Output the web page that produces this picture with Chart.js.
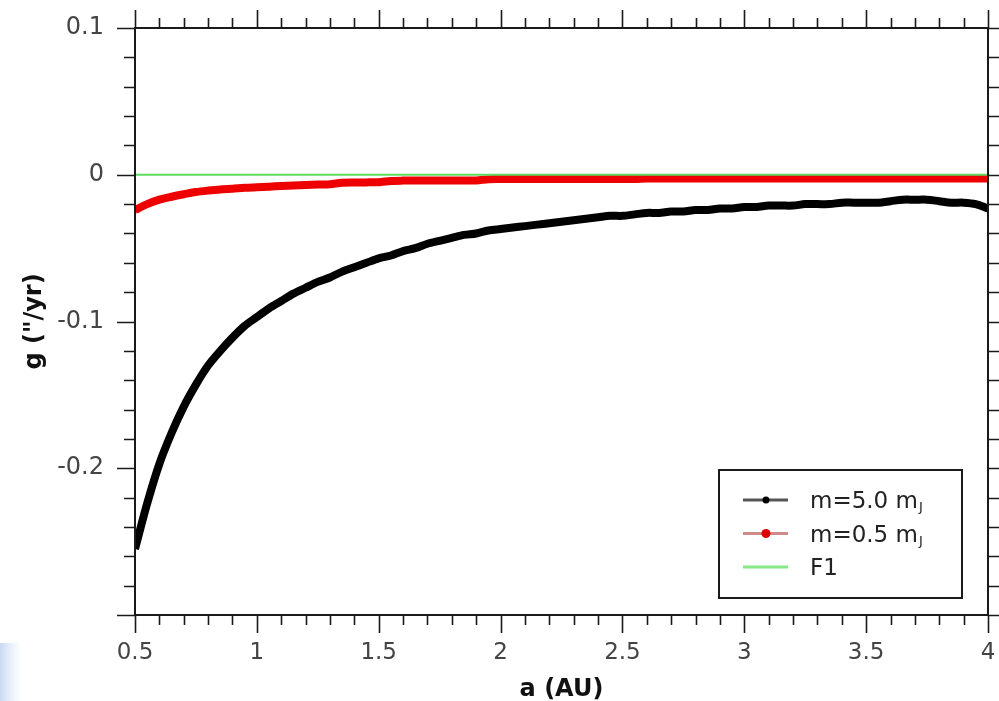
<!DOCTYPE html>
<html>
<head>
<meta charset="utf-8">
<title>g vs a</title>
<script src="https://cdn.jsdelivr.net/npm/chart.js@4/dist/chart.umd.min.js"></script>
<style>
  html, body { margin: 0; padding: 0; background: #fff; }
  #wrap { width: 999px; height: 701px; }
</style>
</head>
<body>
<div id="wrap"><canvas id="g-chart" width="999" height="701"></canvas></div>
<script>
// semi-major axis a (AU), sampled every 0.05
const semiMajorAxis = [
    0.50, 0.55, 0.60, 0.65, 0.70, 0.75, 0.80, 0.85, 0.90, 0.95,
    1.00, 1.05, 1.10, 1.15, 1.20, 1.25, 1.30, 1.35, 1.40, 1.45,
    1.50, 1.55, 1.60, 1.65, 1.70, 1.75, 1.80, 1.85, 1.90, 1.95,
    2.00, 2.05, 2.10, 2.15, 2.20, 2.25, 2.30, 2.35, 2.40, 2.45,
    2.50, 2.55, 2.60, 2.65, 2.70, 2.75, 2.80, 2.85, 2.90, 2.95,
    3.00, 3.05, 3.10, 3.15, 3.20, 3.25, 3.30, 3.35, 3.40, 3.45,
    3.50, 3.55, 3.60, 3.65, 3.70, 3.75, 3.80, 3.85, 3.90, 3.95,
    4.00
];

// g ("/yr) for m = 5.0 mJ
const gHeavy = [
    -0.255, -0.224, -0.197, -0.176, -0.158, -0.143, -0.130, -0.120, -0.111, -0.103,
    -0.097, -0.091, -0.086, -0.081, -0.077, -0.073, -0.070, -0.066, -0.063, -0.060,
    -0.057, -0.055, -0.052, -0.050, -0.047, -0.045, -0.043, -0.041, -0.040, -0.038,
    -0.037, -0.036, -0.035, -0.034, -0.033, -0.032, -0.031, -0.030, -0.029, -0.028,
    -0.028, -0.027, -0.026, -0.026, -0.025, -0.025, -0.024, -0.024, -0.023, -0.023,
    -0.022, -0.022, -0.021, -0.021, -0.021, -0.020, -0.020, -0.020, -0.019, -0.019,
    -0.019, -0.019, -0.018, -0.017, -0.017, -0.017, -0.018, -0.019, -0.019, -0.020,
    -0.023
];

// g ("/yr) for m = 0.5 mJ
const gLight = [
    -0.0240, -0.0200, -0.0170, -0.0150, -0.0133, -0.0118, -0.0108, -0.0100, -0.0095, -0.0089,
    -0.0085, -0.0081, -0.0077, -0.0073, -0.0070, -0.0067, -0.0064, -0.0055, -0.0053, -0.0052,
    -0.0051, -0.0042, -0.0040, -0.0040, -0.0039, -0.0039, -0.0039, -0.0039, -0.0039, -0.0030,
    -0.0029, -0.0029, -0.0029, -0.0029, -0.0029, -0.0029, -0.0029, -0.0029, -0.0029, -0.0029,
    -0.0029, -0.0029, -0.0026, -0.0026, -0.0026, -0.0026, -0.0025, -0.0025, -0.0025, -0.0025,
    -0.0025, -0.0025, -0.0025, -0.0025, -0.0025, -0.0025, -0.0025, -0.0025, -0.0025, -0.0025,
    -0.0025, -0.0025, -0.0025, -0.0025, -0.0025, -0.0025, -0.0025, -0.0025, -0.0025, -0.0025,
    -0.0025
];

// F1 reference line
const f1A = [0.5, 4.0];
const f1G = [0, 0];

// labelled ticks
const xTickValues = [0.5, 1, 1.5, 2, 2.5, 3, 3.5, 4];
const yTickValues = [0.1, 0, -0.1, -0.2];

const FONT = 'DejaVu Sans';
const INK = '#1a1a1a';

function toPoints(xs, ys) {
    return xs.map((x, i) => ({ x: x, y: ys[i] }));
}

// White page, frame round the plot, and ticks (major + minor) on all four sides.
const frameAndTicks = {
    id: 'frameAndTicks',
    beforeDraw(chart) {
        const ctx = chart.ctx;
        ctx.save();
        ctx.fillStyle = '#fff';
        ctx.fillRect(0, 0, chart.width, chart.height);
        // pale blue patch in the bottom-left corner
        const grd = ctx.createLinearGradient(0, 0, 22, 0);
        grd.addColorStop(0, '#c9d9f2');
        grd.addColorStop(1, 'rgba(220,232,248,0)');
        ctx.fillStyle = grd;
        ctx.fillRect(0, 643, 22, 58);
        ctx.restore();
    },
    afterDatasetsDraw(chart) {
        const { ctx, chartArea: a, scales: { x, y } } = chart;
        ctx.save();
        ctx.strokeStyle = INK;
        ctx.lineWidth = 2;
        ctx.strokeRect(a.left, a.top, a.right - a.left, a.bottom - a.top);

        ctx.lineWidth = 1.6;
        ctx.beginPath();
        // x: minor every 0.1, major every 0.5
        for (let i = 0; i <= 35; i++) {
            const px = Math.round(x.getPixelForValue(0.5 + i / 10)) + 0.5;
            const len = i % 5 === 0 ? 18 : 10;
            ctx.moveTo(px, a.bottom);
            ctx.lineTo(px, a.bottom + len);
            ctx.moveTo(px, a.top);
            ctx.lineTo(px, a.top - len);
        }
        // y: minor every 0.02, major every 0.1
        for (let i = 0; i <= 20; i++) {
            const py = Math.round(y.getPixelForValue(-0.3 + i * 0.02)) + 0.5;
            const len = i % 5 === 0 ? 18 : 11;
            ctx.moveTo(a.left, py);
            ctx.lineTo(a.left - len, py);
            ctx.moveTo(a.right, py);
            ctx.lineTo(a.right + len, py);
        }
        ctx.stroke();
        ctx.restore();
    }
};

// Boxed legend in the lower right of the plot.
const legendBox = {
    id: 'legendBox',
    afterDraw(chart) {
        const ctx = chart.ctx;
        const box = { x: 719, y: 470, w: 243, h: 128 };
        const rows = [
            { text: 'm=5.0 m', sub: 'J', line: '#555', dot: '#000', r: 3.5, w: 3 },
            { text: 'm=0.5 m', sub: 'J', line: '#cf8a8a', dot: '#e00000', r: 4.5, w: 3 },
            { text: 'F1', sub: '', line: '#86e886', dot: null, r: 0, w: 3 }
        ];
        ctx.save();
        ctx.fillStyle = '#fff';
        ctx.fillRect(box.x, box.y, box.w, box.h);
        ctx.strokeStyle = INK;
        ctx.lineWidth = 2;
        ctx.strokeRect(box.x, box.y, box.w, box.h);

        rows.forEach((row, i) => {
            const cy = 500 + i * 33.5;
            ctx.strokeStyle = row.line;
            ctx.lineWidth = row.w;
            ctx.beginPath();
            ctx.moveTo(743, cy);
            ctx.lineTo(788, cy);
            ctx.stroke();
            if (row.dot) {
                ctx.fillStyle = row.dot;
                ctx.beginPath();
                ctx.arc(766, cy, row.r, 0, Math.PI * 2);
                ctx.fill();
            }
            ctx.fillStyle = '#222';
            ctx.textBaseline = 'alphabetic';
            ctx.textAlign = 'left';
            ctx.font = `23px "${FONT}"`;
            const base = cy + 8;
            ctx.fillText(row.text, 810, base);
            if (row.sub) {
                const w = ctx.measureText(row.text).width;
                ctx.font = `13px "${FONT}"`;
                ctx.fillText(row.sub, 810 + w + 1, base + 3);
            }
        });
        ctx.restore();
    }
};

const config = {
    type: 'line',
    data: {
        datasets: [
            {
                label: 'F1',
                data: toPoints(f1A, f1G),
                borderColor: '#5fdc5f',
                borderWidth: 2,
                pointRadius: 0,
                clip: 0
            },
            {
                label: 'm=0.5 mJ',
                data: toPoints(semiMajorAxis, gLight),
                borderColor: '#ee0000',
                borderWidth: 8,
                pointRadius: 0,
                tension: 0.3,
                clip: 0
            },
            {
                label: 'm=5.0 mJ',
                data: toPoints(semiMajorAxis, gHeavy),
                borderColor: '#000',
                borderWidth: 8,
                pointRadius: 0,
                tension: 0.3,
                clip: 0
            }
        ]
    },
    options: {
        responsive: false,
        animation: false,
        layout: { padding: { top: 28, right: 11, left: 0, bottom: 0 } },
        plugins: {
            legend: { display: false },
            tooltip: { enabled: false }
        },
        scales: {
            x: {
                type: 'linear',
                min: 0.5,
                max: 4,
                afterBuildTicks: (s) => { s.ticks = xTickValues.map(v => ({ value: v })); },
                afterFit: (s) => {
                    s.height = 86;
                    s.paddingLeft = 0;
                    s.paddingRight = 0;
                },
                grid: { display: false, drawTicks: false },
                border: { display: false },
                ticks: {
                    padding: 24,
                    color: '#444',
                    font: { family: FONT, size: 23 },
                    maxRotation: 0,
                    callback: (v) => String(Math.round(v * 10) / 10)
                },
                title: {
                    display: true,
                    text: 'a (AU)',
                    color: '#111',
                    font: { family: FONT, size: 24, weight: 'bold' },
                    padding: { top: 0, bottom: -3 }
                }
            },
            y: {
                type: 'linear',
                min: -0.3,
                max: 0.1,
                afterBuildTicks: (s) => { s.ticks = yTickValues.map(v => ({ value: v })); },
                afterFit: (s) => {
                    s.width = 135;
                    s.paddingTop = 0;
                    s.paddingBottom = 0;
                },
                grid: { display: false, drawTicks: false },
                border: { display: false },
                ticks: {
                    padding: 31,
                    color: '#444',
                    font: { family: FONT, size: 24 },
                    callback: (v) => String(Math.round(v * 10) / 10)
                },
                title: {
                    display: true,
                    text: 'g ("/yr)',
                    color: '#111',
                    font: { family: FONT, size: 24, weight: 'bold' },
                    padding: { top: 20, bottom: 0 }
                }
            }
        }
    },
    plugins: [frameAndTicks, legendBox]
};

new Chart(document.getElementById('g-chart'), config);
</script>
</body>
</html>
